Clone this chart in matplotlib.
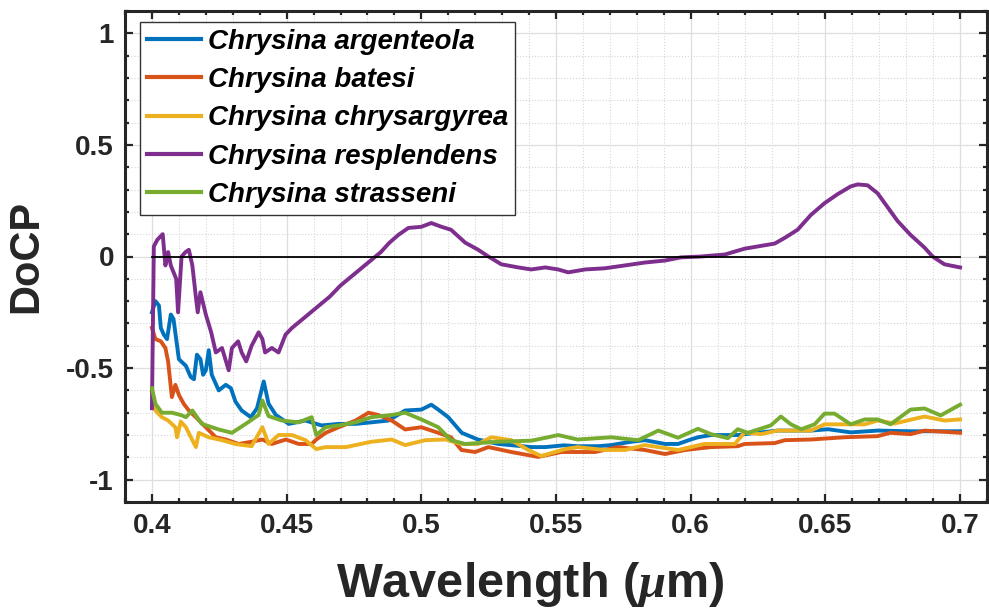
import numpy as np
import matplotlib
matplotlib.use("Agg")
import matplotlib.pyplot as plt
from matplotlib.ticker import MultipleLocator, FuncFormatter

plt.rcParams['font.family'] = ['Liberation Sans', 'DejaVu Sans']
plt.rcParams['font.weight'] = 'bold'
plt.rcParams['axes.unicode_minus'] = False
plt.rcParams['mathtext.fontset'] = 'custom'
plt.rcParams['mathtext.it'] = 'Liberation Serif:italic'

names = ['Chrysina argenteola', 'Chrysina batesi', 'Chrysina chrysargyrea',
         'Chrysina resplendens', 'Chrysina strasseni']
colors = ['#0072BD', '#D95319', '#EDB120', '#7E2F8E', '#77AC30']

# argenteola
x_arg = [0.400, 0.4013, 0.4026, 0.4033, 0.4044, 0.4056, 0.407, 0.408, 0.409, 0.410, 0.4126, 0.4144,
         0.4156, 0.4167, 0.418, 0.419, 0.420, 0.4211, 0.4222, 0.4248, 0.4274, 0.4293, 0.431, 0.4333,
         0.4367, 0.439, 0.4415, 0.4433, 0.446, 0.4508, 0.457, 0.463, 0.4693, 0.4756, 0.4815, 0.4878,
         0.494, 0.500, 0.5037, 0.5063, 0.510, 0.515, 0.521, 0.5286, 0.541, 0.546, 0.553, 0.558,
         0.5656, 0.5705, 0.578, 0.583, 0.5905, 0.5953, 0.600, 0.6027, 0.6075, 0.6175, 0.620, 0.6323,
         0.6446, 0.651, 0.6594, 0.6694, 0.6816, 0.700]
y_arg = [-0.25, -0.20, -0.22, -0.32, -0.35, -0.37, -0.26, -0.28, -0.37, -0.46, -0.49, -0.54,
         -0.55, -0.44, -0.46, -0.53, -0.51, -0.42, -0.53, -0.60, -0.575, -0.59, -0.65, -0.69,
         -0.72, -0.68, -0.56, -0.66, -0.71, -0.75, -0.735, -0.757, -0.75, -0.75, -0.743, -0.735,
         -0.69, -0.686, -0.664, -0.686, -0.72, -0.79, -0.82, -0.84, -0.854, -0.854, -0.846, -0.85,
         -0.85, -0.845, -0.83, -0.823, -0.84, -0.84, -0.82, -0.81, -0.80, -0.80, -0.796, -0.78,
         -0.78, -0.774, -0.788, -0.78, -0.783, -0.783]

# batesi
x_bat = [0.400, 0.4013, 0.4033, 0.405, 0.406, 0.4074, 0.4087, 0.410, 0.4118, 0.4137, 0.4163, 0.420,
         0.4237, 0.4274, 0.4322, 0.437, 0.441, 0.4445, 0.4497, 0.4545, 0.4593, 0.461, 0.4645, 0.4693,
         0.4756, 0.4804, 0.484, 0.489, 0.494, 0.500, 0.5063, 0.511, 0.5149, 0.520, 0.5249, 0.5334,
         0.5434, 0.552, 0.5645, 0.573, 0.583, 0.5905, 0.5979, 0.6075, 0.6175, 0.620, 0.6312, 0.635,
         0.6446, 0.657, 0.6694, 0.6742, 0.6816, 0.6868, 0.700]
y_bat = [-0.32, -0.37, -0.38, -0.41, -0.47, -0.63, -0.575, -0.62, -0.66, -0.69, -0.72, -0.765,
         -0.81, -0.82, -0.84, -0.83, -0.82, -0.84, -0.82, -0.84, -0.84, -0.82, -0.79, -0.765,
         -0.735, -0.70, -0.71, -0.735, -0.775, -0.765, -0.79, -0.81, -0.867, -0.876, -0.854, -0.876,
         -0.898, -0.876, -0.876, -0.854, -0.867, -0.885, -0.867, -0.854, -0.85, -0.84, -0.836, -0.823,
         -0.82, -0.81, -0.805, -0.79, -0.796, -0.78, -0.79]

# chrysargyrea
x_chr = [0.400, 0.4013, 0.4037, 0.406, 0.4087, 0.4093, 0.4107, 0.4126, 0.4163, 0.4174, 0.4211, 0.426,
         0.431, 0.437, 0.441, 0.4433, 0.447, 0.452, 0.457, 0.461, 0.4645, 0.472, 0.4815, 0.489,
         0.494, 0.5015, 0.509, 0.5149, 0.521, 0.526, 0.5334, 0.5397, 0.5445, 0.5534, 0.558, 0.568,
         0.5756, 0.583, 0.5953, 0.605, 0.6164, 0.620, 0.626, 0.6323, 0.6446, 0.6497, 0.6646, 0.6694,
         0.6757, 0.6868, 0.6942, 0.700]
y_chr = [-0.61, -0.69, -0.72, -0.735, -0.765, -0.81, -0.74, -0.765, -0.854, -0.79, -0.81, -0.823,
         -0.84, -0.85, -0.765, -0.84, -0.80, -0.80, -0.823, -0.863, -0.854, -0.854, -0.83, -0.82,
         -0.845, -0.823, -0.82, -0.84, -0.84, -0.81, -0.823, -0.867, -0.894, -0.863, -0.854, -0.867,
         -0.867, -0.845, -0.867, -0.84, -0.84, -0.788, -0.796, -0.78, -0.78, -0.752, -0.752, -0.735,
         -0.748, -0.717, -0.735, -0.73]

# resplendens
x_res = [0.400, 0.4007, 0.402, 0.404, 0.405, 0.406, 0.407, 0.409, 0.4097, 0.411, 0.4125, 0.4137,
         0.415, 0.4163, 0.417, 0.418, 0.420, 0.422, 0.4237, 0.426, 0.4285, 0.4297, 0.432, 0.4333,
         0.435, 0.437, 0.4396, 0.441, 0.442, 0.4445, 0.447, 0.4496, 0.452, 0.455, 0.458, 0.462,
         0.466, 0.470, 0.475, 0.480, 0.485, 0.488, 0.4915, 0.4952, 0.500, 0.5037, 0.5075, 0.511,
         0.5163, 0.521, 0.5249, 0.5297, 0.536, 0.5408, 0.546, 0.5508, 0.5545, 0.5608, 0.568, 0.5756,
         0.583, 0.5905, 0.5964, 0.6038, 0.6127, 0.620, 0.6312, 0.635, 0.6397, 0.6446, 0.6497, 0.6545,
         0.6594, 0.662, 0.6657, 0.6694, 0.6731, 0.6768, 0.6816, 0.6868, 0.6898, 0.6942, 0.700]
y_res = [-0.68, 0.045, 0.075, 0.10, -0.04, 0.02, -0.04, -0.10, -0.25, 0.0, 0.02, 0.03,
         -0.04, -0.18, -0.25, -0.16, -0.26, -0.34, -0.43, -0.41, -0.51, -0.41, -0.38, -0.43,
         -0.47, -0.40, -0.34, -0.37, -0.43, -0.41, -0.43, -0.35, -0.32, -0.29, -0.26, -0.22,
         -0.18, -0.13, -0.08, -0.03, 0.02, 0.06, 0.097, 0.128, 0.133, 0.15, 0.133, 0.12,
         0.062, 0.031, 0.0, -0.035, -0.049, -0.058, -0.049, -0.058, -0.071, -0.058, -0.053, -0.04,
         -0.027, -0.018, -0.004, 0.0, 0.009, 0.035, 0.058, 0.084, 0.12, 0.186, 0.239, 0.279,
         0.314, 0.323, 0.319, 0.283, 0.221, 0.159, 0.097, 0.04, 0.0, -0.035, -0.049]

# strasseni
x_str = [0.400, 0.4013, 0.4037, 0.4074, 0.4107, 0.4126, 0.415, 0.4185, 0.4248, 0.4297, 0.4348, 0.4396,
         0.441, 0.4433, 0.4482, 0.4545, 0.4593, 0.461, 0.4645, 0.4693, 0.4756, 0.4815, 0.489, 0.494,
         0.500, 0.5063, 0.511, 0.5163, 0.5286, 0.541, 0.547, 0.5508, 0.558, 0.5705, 0.5805, 0.588,
         0.5953, 0.6027, 0.6075, 0.6138, 0.6175, 0.6212, 0.6297, 0.6335, 0.6372, 0.641, 0.646, 0.6497,
         0.6534, 0.6594, 0.6646, 0.6694, 0.6742, 0.6816, 0.6868, 0.6928, 0.700]
y_str = [-0.59, -0.66, -0.70, -0.70, -0.71, -0.72, -0.69, -0.75, -0.775, -0.79, -0.75, -0.71,
         -0.645, -0.715, -0.735, -0.743, -0.72, -0.80, -0.765, -0.757, -0.743, -0.72, -0.71, -0.70,
         -0.73, -0.765, -0.823, -0.84, -0.83, -0.825, -0.81, -0.80, -0.82, -0.81, -0.823, -0.78,
         -0.812, -0.772, -0.796, -0.814, -0.774, -0.79, -0.757, -0.717, -0.752, -0.774, -0.752, -0.704,
         -0.704, -0.752, -0.73, -0.73, -0.752, -0.686, -0.681, -0.712, -0.664]

series_x = [x_arg, x_bat, x_chr, x_res, x_str]
series_y = [y_arg, y_bat, y_chr, y_res, y_str]

fig = plt.figure(figsize=(9.89, 6.11), dpi=100)
ax = fig.add_axes([125 / 989, 109 / 611, 862 / 989, 491 / 611])

for xs, ys, c, n in zip(series_x, series_y, colors, names):
    ax.plot(xs, ys, color=c, lw=2.8, label=n, solid_joinstyle='round')
ax.plot([0.4, 0.7], [0, 0], color='k', lw=1.3)

ax.set_xlim(0.39, 0.71)
ax.set_ylim(-1.1, 1.1)
ax.xaxis.set_major_locator(MultipleLocator(0.05))
ax.xaxis.set_minor_locator(MultipleLocator(0.01))
ax.yaxis.set_major_locator(MultipleLocator(0.5))
ax.yaxis.set_minor_locator(MultipleLocator(0.1))
fmt = FuncFormatter(lambda v, p: '%g' % round(v, 3) if abs(v) > 1e-9 else '0')
ax.xaxis.set_major_formatter(fmt)
ax.yaxis.set_major_formatter(fmt)

ax.grid(which='major', color='#dedede', lw=0.9, ls='-')
ax.grid(which='minor', color='#d6d6d6', lw=0.8, ls=':')
ax.set_axisbelow(True)

ax.tick_params(which='both', direction='in', top=True, right=True, width=1.6, color='#262626')
ax.tick_params(which='major', length=6, labelsize=20, pad=8)
ax.tick_params(axis='y', which='major', pad=8)
ax.tick_params(which='minor', length=3)
for s in ax.spines.values():
    s.set_linewidth(2.2)
    s.set_color('#262626')
for lab in ax.get_xticklabels() + ax.get_yticklabels():
    lab.set_fontweight('bold')
    lab.set_color('#262626')

ax.set_xlabel(r'Wavelength ($\mu$m)', fontsize=35, fontweight='bold', color='#262626')
ax.xaxis.set_label_coords((530 - 125) / 862, -0.118)
ax.set_ylabel('DoCP', fontsize=30, fontweight='bold', color='#262626', labelpad=14)

leg = ax.legend(loc='upper left', bbox_to_anchor=(15 / 862, 1 - 11 / 491),
                borderaxespad=0, prop={'size': 20, 'weight': 'bold', 'style': 'italic'},
                handlelength=1.95, handletextpad=0.25, labelspacing=0.44,
                borderpad=0.25, fancybox=False, framealpha=1, edgecolor='#333333')
leg.get_frame().set_linewidth(1.0)
for line in leg.get_lines():
    line.set_linewidth(3)

fig.savefig('out.png', dpi=100)
